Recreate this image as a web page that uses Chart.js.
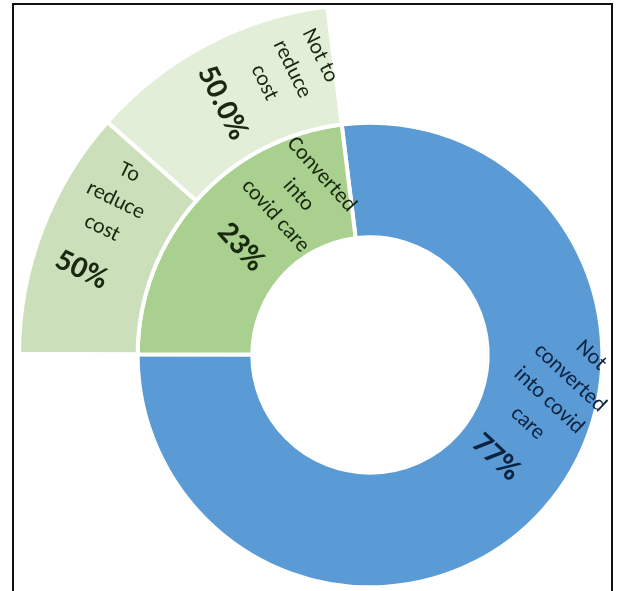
<!DOCTYPE html>
<html>
<head>
<meta charset="utf-8">
<script src="https://cdn.jsdelivr.net/npm/chart.js@4.4.1/dist/chart.umd.min.js"></script>
<style>
  html, body { margin: 0; padding: 0; background: #fff; overflow: hidden; width: 619px; height: 591px; }
  #frame { position: absolute; left: 12px; top: 3px; width: 601px; height: 640px; border: 2px solid #111; box-sizing: border-box; pointer-events: none; z-index: 2; }
  #sunburst { position: absolute; left: 19px; top: 4px; }
</style>
</head>
<body>
<div id="frame"></div>
<canvas id="sunburst" width="702" height="702"></canvas>
<script>
// --- DATA ---
// inner ring: hospitals converted into covid care or not
const careCategories = [['Not', 'converted', 'into covid', 'care'], ['Converted', 'into', 'covid care']];
const careValues = [77, 23];
// outer ring: split of the converted slice (percent of that slice)
const costCategories = [['To', 'reduce', 'cost'], ['Not to', 'reduce', 'cost']];
const costShares = [50, 50];
const costShareDigits = [0, 1];

// --- LOOK ---
const careColors = ['#5b9bd5', '#a9d08e'];
const costColors = ['#cbe0ba', '#e3eed8'];
const careTextColors = ['#0c2340', '#18290f'];
const costTextColor = '#18290f';

// where each label block sits inside its arc (fraction along the arc, fraction across the ring) and its text angle
const careLabelPos = [{ along: 0.41, across: 0.55, tilt: 43 }, { along: 0.70, across: 0.45, tilt: 48 }];
const costLabelPos = [{ along: 0.64, across: 0.54, tilt: 26 }, { along: 0.69, across: 0.51, tilt: 64 }];

const convertedValue = careValues[1];
const costValues = costShares.map(s => convertedValue * s / 100);

// Draws the rotated multi-line labels inside each arc
const arcLabelPlugin = {
    id: 'arcLabels',
    afterDatasetsDraw(chart) {
        const ctx = chart.ctx;
        chart.data.datasets.forEach((ds, di) => {
            const meta = chart.getDatasetMeta(di);
            (ds.sliceText || []).forEach((item, i) => {
                if (!item) return;
                const arc = meta.data[i];
                const p = arc.getProps(['x', 'y', 'startAngle', 'endAngle', 'innerRadius', 'outerRadius'], true);
                const a = p.startAngle + item.pos.along * (p.endAngle - p.startAngle);
                const r = p.innerRadius + item.pos.across * (p.outerRadius - p.innerRadius);
                const cx = p.x + Math.cos(a) * r;
                const cy = p.y + Math.sin(a) * r;

                const nameStep = 31;
                const pctGap = 47;
                const span = (item.lines.length - 1) * nameStep + pctGap;
                let y = -span / 2;

                ctx.save();
                ctx.translate(cx, cy);
                ctx.rotate(item.pos.tilt * Math.PI / 180);
                ctx.textAlign = 'center';
                ctx.textBaseline = 'middle';
                ctx.fillStyle = item.color;
                ctx.font = '22px Carlito, Lato, sans-serif';
                item.lines.forEach(line => {
                    ctx.fillText(line, 0, y);
                    y += nameStep;
                });
                y += pctGap - nameStep;
                ctx.font = 'bold 31px Carlito, Lato, sans-serif';
                ctx.fillText(item.pct, 0, y);
                ctx.restore();
            });
        });
    }
};

const ctx = document.getElementById('sunburst');

new Chart(ctx, {
    type: 'doughnut',
    data: {
        labels: ['Not converted into covid care', 'To reduce cost', 'Not to reduce cost'],
        datasets: [
            {
                // outer ring, only over the converted slice
                data: [careValues[0], ...costValues],
                backgroundColor: ['rgba(0,0,0,0)', ...costColors],
                borderColor: '#ffffff',
                borderWidth: [0, 4, 4],
                weight: 119,
                sliceText: [null, ...costCategories.map((lines, i) => ({
                    lines: lines,
                    pct: costShares[i].toFixed(costShareDigits[i]) + '%',
                    color: costTextColor,
                    pos: costLabelPos[i]
                }))]
            },
            {
                // inner ring
                data: careValues,
                backgroundColor: careColors,
                borderColor: '#ffffff',
                borderWidth: 4,
                weight: 115,
                sliceText: careCategories.map((lines, i) => ({
                    lines: lines,
                    pct: careValues[i] + '%',
                    color: careTextColors[i],
                    pos: careLabelPos[i]
                }))
            }
        ]
    },
    options: {
        responsive: false,
        devicePixelRatio: 1,
        animation: false,
        rotation: -7,
        radius: 351,
        cutout: 117,
        hoverOffset: 0,
        layout: { padding: 0, autoPadding: false },
        plugins: {
            legend: { display: false },
            tooltip: { enabled: false }
        }
    },
    plugins: [arcLabelPlugin]
});
</script>
</body>
</html>
